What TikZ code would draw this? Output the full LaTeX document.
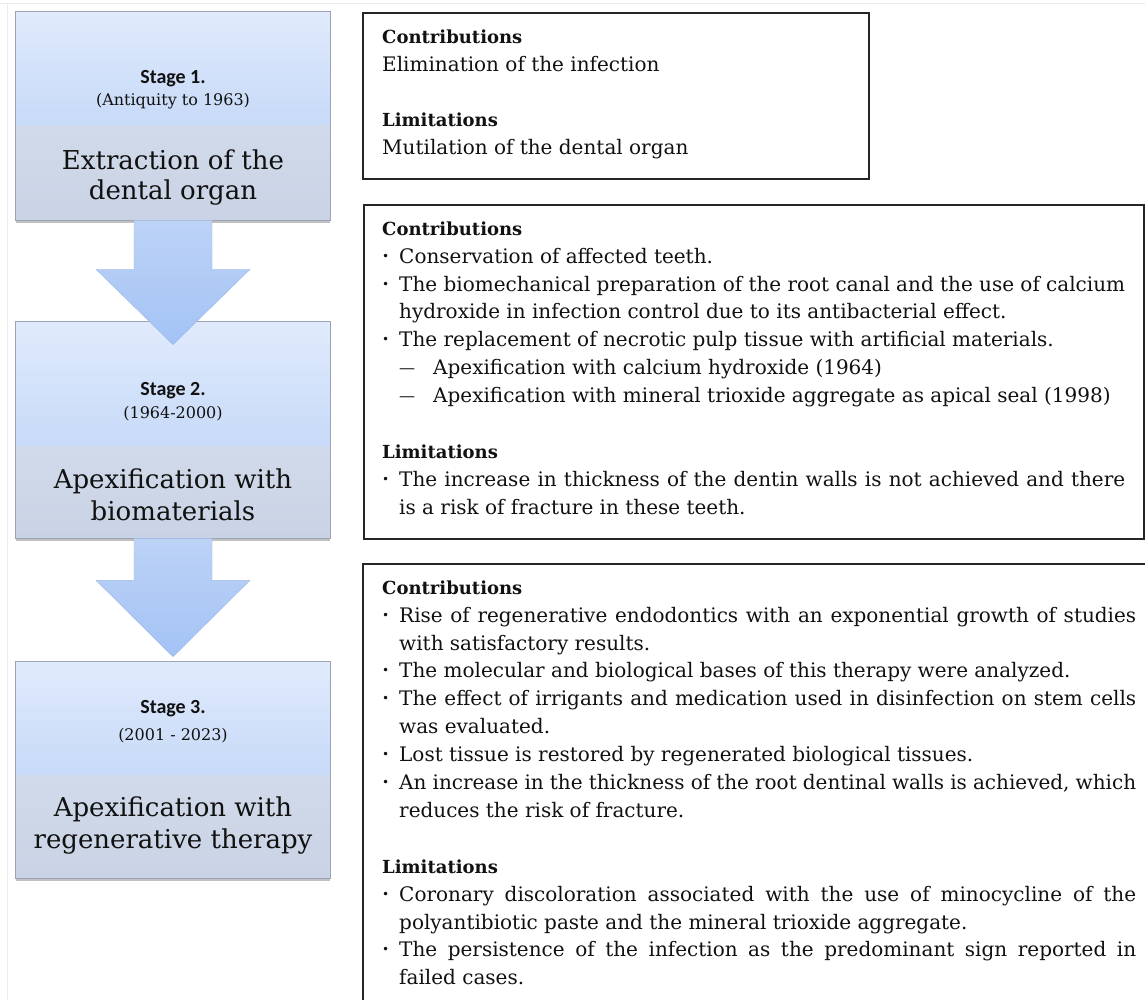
\documentclass[tikz,border=0pt]{standalone}
\usepackage{fontspec}
\setmainfont{DejaVu Serif}
\newfontfamily\stagefont{Carlito}
\usetikzlibrary{calc,shadows}
\definecolor{topA}{HTML}{E0EAFC}
\definecolor{topB}{HTML}{C7DAF8}
\definecolor{botA}{HTML}{D1DAEA}
\definecolor{botB}{HTML}{C9D3E5}
\definecolor{arrA}{HTML}{BDD3F6}
\definecolor{arrB}{HTML}{A3C2F5}
\definecolor{arrE}{HTML}{9DB8E6}
\definecolor{edge}{HTML}{9AA4B4}
\definecolor{ink}{HTML}{111111}
\newcommand\mybul{\makebox[17pt][l]{\raisebox{3pt}{\fontsize{12}{12}\selectfont\textbullet}}}
\newcommand\myind{\hspace*{17pt}}
\newcommand\mydash{\hspace*{17pt}\makebox[34pt][l]{\raisebox{1.5pt}{\fontsize{16}{16}\selectfont ---}}}
\newcommand\myjb[1]{\makebox[737pt][s]{#1}}
\newcommand\myjc[1]{\makebox[726pt][s]{#1}}
\newcommand\myhd[1]{{\fontsize{18}{27.9}\selectfont\bfseries #1}}
\begin{document}
\begin{tikzpicture}[x=1pt,y=-1pt,
  stagebox/.style={draw=edge, line width=0.6pt, minimum width=314pt, inner sep=0pt, fill=botA,
    drop shadow={shadow xshift=0pt, shadow yshift=-3pt, opacity=0.35, fill=black!70}},
  stagehd/.style={anchor=base, inner sep=0pt, text=ink, font={\fontsize{20}{24}\selectfont\stagefont\bfseries}},
  stageyr/.style={anchor=base, inner sep=0pt, text=ink, font={\fontsize{16}{19}\selectfont}},
  stagebig/.style={anchor=base, inner sep=0pt, text=ink, font={\fontsize{26}{31}\selectfont}},
  blockarrow/.style={top color=arrA, bottom color=arrB, draw=arrE, line width=0.4pt},
  framebox/.style={draw=black!85, line width=1.6pt, inner sep=0pt, anchor=north west},
  infotext/.style={anchor=north west, inner sep=0pt, align=left, text=ink, font={\fontsize{20}{27.9}\selectfont}}
]
\useasboundingbox[fill=white] (0,0) rectangle (1145,1000);
\draw[black!8, line width=0.8pt] (0,3) -- (1145,3);
\draw[black!8, line width=0.8pt] (7,3) -- (7,1000);

% stage boxes
\node[stagebox, minimum height=208pt] (s1) at (173,116) {};
\node[stagebox, minimum height=216pt] (s2) at (173,430) {};
\node[stagebox, minimum height=216pt] (s3) at (173,770) {};
\foreach \s/\t/\b in {s1/113/95, s2/124/92, s3/113/103}{
  \shade[top color=topA, bottom color=topB] (\s.north west) rectangle ($(\s.north east)+(0,\t)$);
  \shade[top color=botA, bottom color=botB] ($(\s.south west)+(0,-\b)$) rectangle (\s.south east);
  \draw[edge, line width=0.6pt] (\s.north west) rectangle (\s.south east);
}

% block arrows
\path[blockarrow] ($(s1.south)+(-39,0)$) -- ($(s1.south)+(39,0)$) -- ($(s1.south)+(39,49)$)
  -- ($(s1.south)+(77,49)$) -- ($(s2.north)+(0,23)$) -- ($(s1.south)+(-77,49)$)
  -- ($(s1.south)+(-39,49)$) -- cycle;
\path[blockarrow] ($(s2.south)+(-39,0)$) -- ($(s2.south)+(39,0)$) -- ($(s2.south)+(39,42)$)
  -- ($(s2.south)+(77,42)$) -- ($(s3.north)+(0,-5)$) -- ($(s2.south)+(-77,42)$)
  -- ($(s2.south)+(-39,42)$) -- cycle;

% stage texts
\node[stagehd] (s1a) at (173,84) {Stage 1.};
\node[stageyr] (s1b) at (173,106) {(Antiquity to 1963)};
\node[stagebig] (s1c) at (173,170) {Extraction of the};
\node[stagebig] (s1d) at (173,200) {dental organ};

\node[stagehd] (s2a) at (173,395) {Stage 2.};
\node[stageyr] (s2b) at (173,418) {(1964-2000)};
\node[stagebig] (s2c) at (173,488) {Apexification with};
\node[stagebig] (s2d) at (173,520) {biomaterials};

\node[stagehd] (s3a) at (173,713) {Stage 3.};
\node[stageyr] (s3b) at (173,740) {(2001 - 2023)};
\node[stagebig] (s3c) at (173,816) {Apexification with};
\node[stagebig] (s3d) at (173,848) {regenerative therapy};

% right frames
\node[framebox, minimum width=506pt, minimum height=166pt] (f1) at (362,12) {};
\node[framebox, minimum width=780pt, minimum height=334pt] (f2) at (363,204) {};
\node[framebox, minimum width=803pt, minimum height=457pt] (f3) at (362,563) {};

\node[infotext] (t1) at (382,23.5) {\strut\myhd{Contributions}\\
Elimination of the infection\\[27.9pt]
\myhd{Limitations}\\
Mutilation of the dental organ};

\node[infotext] (t2) at (382,215.5) {\strut\myhd{Contributions}\\
\mybul Conservation of affected teeth.\\
\mybul\myjc{The biomechanical preparation of the root canal and the use of calcium}\\
\myind hydroxide in infection control due to its antibacterial effect.\\
\mybul The replacement of necrotic pulp tissue with artificial materials.\\
\mydash Apexification with calcium hydroxide (1964)\\
\mydash Apexification with mineral trioxide aggregate as apical seal (1998)\\[27.9pt]
\myhd{Limitations}\\
\mybul\myjc{The increase in thickness of the dentin walls is not achieved and there}\\
\myind is a risk of fracture in these teeth.};

\node[infotext] (t3) at (382,574.5) {\strut\myhd{Contributions}\\
\mybul\myjb{Rise of regenerative endodontics with an exponential growth of studies}\\
\myind with satisfactory results.\\
\mybul The molecular and biological bases of this therapy were analyzed.\\
\mybul\myjb{The effect of irrigants and medication used in disinfection on stem cells}\\
\myind was evaluated.\\
\mybul Lost tissue is restored by regenerated biological tissues.\\
\mybul\myjb{An increase in the thickness of the root dentinal walls is achieved, which}\\
\myind reduces the risk of fracture.\\[27.9pt]
\myhd{Limitations}\\
\mybul\myjb{Coronary discoloration associated with the use of minocycline of the}\\
\myind polyantibiotic paste and the mineral trioxide aggregate.\\
\mybul\myjb{The persistence of the infection as the predominant sign reported in}\\
\myind failed cases.};
\end{tikzpicture}
\end{document}
